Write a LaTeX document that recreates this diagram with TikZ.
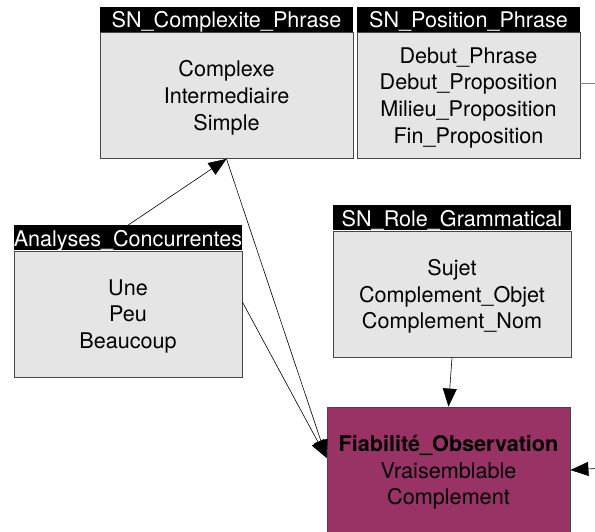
\documentclass[tikz,border=0pt]{standalone}
\usepackage{fontspec}
\setmainfont{TeX Gyre Heros}
\usetikzlibrary{arrows.meta, positioning}
\definecolor{boxgray}{RGB}{229,229,229}
\definecolor{boxline}{RGB}{70,70,70}
\definecolor{fiabfill}{RGB}{153,51,102}
\tikzset{%
	class body/.style={
		draw=boxline,
		fill=boxgray,
		line width=0.8pt,
		minimum height=126pt,
		inner sep=0pt,
		text depth=-1pt,
		align=center
	},
	class head/.style={
		fill=black,
		text=white,
		minimum height=25pt,
		inner sep=0pt,
		text height=18pt,
		text depth=1pt
	},
}

\begin{document}
\begin{tikzpicture}[x=1pt, y=-1pt, font=\fontsize{21.6}{26.8}\selectfont,
		>={Triangle[length=18pt,width=14pt]}]
			\tikzstyle{link}=[->, line width=0.6pt]
			
			\useasboundingbox (0,0) rectangle (595,532);
			\clip (0,0) rectangle (595,532);
			
			\node[class body, minimum width=253pt](cplx) at (226.5,95.5){Complexe\\Intermediaire\\Simple};
			\node[class head, minimum width=253pt, above=0pt of cplx](cplxHead){SN\_Complexite\_Phrase};
			
			\node[class body, minimum width=223pt](pos) at (468.5,95.5){Debut\_Phrase\\Debut\_Proposition\\Milieu\_Proposition\\Fin\_Proposition};
			\node[class head, minimum width=223pt, above=0pt of pos](posHead){SN\_Position\_Phrase};
			
			\node[class body, minimum width=228pt](ana) at (128,314){Une\\Peu\\Beaucoup};
			\node[class head, minimum width=228pt, above=0pt of ana](anaHead){Analyses\_Concurrentes};
			
			\node[class body, minimum width=238pt](role) at (452,294){Sujet\\Complement\_Objet\\Complement\_Nom};
			\node[class head, minimum width=238pt, above=0pt of role](roleHead){SN\_Role\_Grammatical};
			
			\node[class body, fill=fiabfill, minimum width=243pt](fiab) at (448.5,470){\textbf{Fiabilité\_Observation}\\Vraisemblable\\Complement};
			
			\coordinate (fiabIn) at ([yshift=12pt]fiab.west);
			\coordinate (fiabSrc) at (605,468);
			\coordinate (posOut) at (605,83);
			
			\draw[link] (anaHead.north) -- (cplx.south);
			\draw[link] (cplx.south) -- (fiabIn);
			\draw[link] ([yshift=12pt]ana.east) -- (fiabIn);
			\draw[link] (role.south) -- (fiab.north);
			\draw[link] (fiabSrc) -- (fiab.east);
			\draw[line width=0.6pt, draw=gray] ([yshift=12.5pt]pos.east) -- (posOut);
		\end{tikzpicture}
\end{document}
